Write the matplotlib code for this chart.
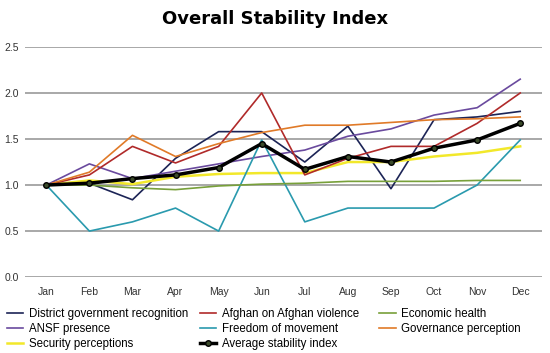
import matplotlib.pyplot as plt

months = ['Jan', 'Feb', 'Mar', 'Apr', 'May', 'Jun', 'Jul', 'Aug', 'Sep', 'Oct', 'Nov', 'Dec']

district = [1.0, 1.02, 0.84, 1.29, 1.58, 1.58, 1.25, 1.64, 0.96, 1.71, 1.74, 1.80]
violence = [1.0, 1.11, 1.42, 1.24, 1.42, 2.0, 1.11, 1.29, 1.42, 1.42, 1.67, 2.0]
economic = [1.0, 1.0, 0.97, 0.95, 0.99, 1.01, 1.02, 1.04, 1.04, 1.04, 1.05, 1.05]
ansf = [1.0, 1.23, 1.07, 1.15, 1.23, 1.31, 1.38, 1.53, 1.61, 1.76, 1.84, 2.15]
freedom = [1.0, 0.5, 0.6, 0.75, 0.5, 1.49, 0.6, 0.75, 0.75, 0.75, 1.0, 1.49]
governance = [1.0, 1.14, 1.54, 1.31, 1.45, 1.57, 1.65, 1.65, 1.68, 1.71, 1.72, 1.74]
security = [1.0, 1.05, 1.01, 1.09, 1.12, 1.13, 1.13, 1.25, 1.25, 1.31, 1.35, 1.42]
average = [1.0, 1.02, 1.07, 1.11, 1.19, 1.45, 1.17, 1.31, 1.25, 1.40, 1.49, 1.67]

plt.rcParams['font.family'] = ['Liberation Sans', 'DejaVu Sans']

fig = plt.figure(figsize=(5.5, 3.53), dpi=100)
ax = fig.add_axes([0.045, 0.215, 0.94, 0.652])

x = range(len(months))
lw = 1.2
l1, = ax.plot(x, district, color='#1c2456', lw=lw, label='District government recognition')
l4, = ax.plot(x, ansf, color='#6a4a9e', lw=lw, label='ANSF presence')
l7, = ax.plot(x, security, color='#f2e82a', lw=1.8, label='Security perceptions')
l2, = ax.plot(x, violence, color='#b02a2a', lw=lw, label='Afghan on Afghan violence')
l5, = ax.plot(x, freedom, color='#2a9aae', lw=lw, label='Freedom of movement')
l3, = ax.plot(x, economic, color='#78a03a', lw=lw, label='Economic health')
l6, = ax.plot(x, governance, color='#e07a28', lw=lw, label='Governance perception')
l8, = ax.plot(x, average, color='black', lw=2.5, marker='o', markersize=4,
              markerfacecolor='#3a4a2a', label='Average stability index')

ax.set_xlim(-0.5, 11.5)
ax.set_ylim(0, 2.5)
ax.set_yticks([0, 0.5, 1.0, 1.5, 2.0, 2.5])
ax.set_yticklabels(['0.0', '0.5', '1.0', '1.5', '2.0', '2.5'])
ax.set_xticks(list(x))
ax.set_xticklabels(months)
ax.tick_params(length=0, labelsize=7.5, colors='#333333')
ax.tick_params(axis='y', pad=4)
ax.tick_params(axis='x', pad=7)
ax.grid(axis='y', color='#999999', lw=1.2)
ax.set_axisbelow(True)
for s in ax.spines.values():
    s.set_visible(False)

fig.text(0.5, 0.945, 'Overall Stability Index', ha='center', va='center',
         fontsize=13, fontweight='bold', family=['DejaVu Sans'])

# legend laid out as three separate columns
columns = [([l1, l4, l7], 0.012), ([l2, l5, l8], 0.364), ([l3, l6], 0.69)]
for hs, x0 in columns:
    fig.legend(handles=hs, labels=[h.get_label() for h in hs],
               loc='upper left', bbox_to_anchor=(x0, 0.128), frameon=False,
               fontsize=8.3, handlelength=1.4, handletextpad=0.5,
               labelspacing=0.25, borderaxespad=0, borderpad=0)

fig.savefig('out.png', dpi=100)
